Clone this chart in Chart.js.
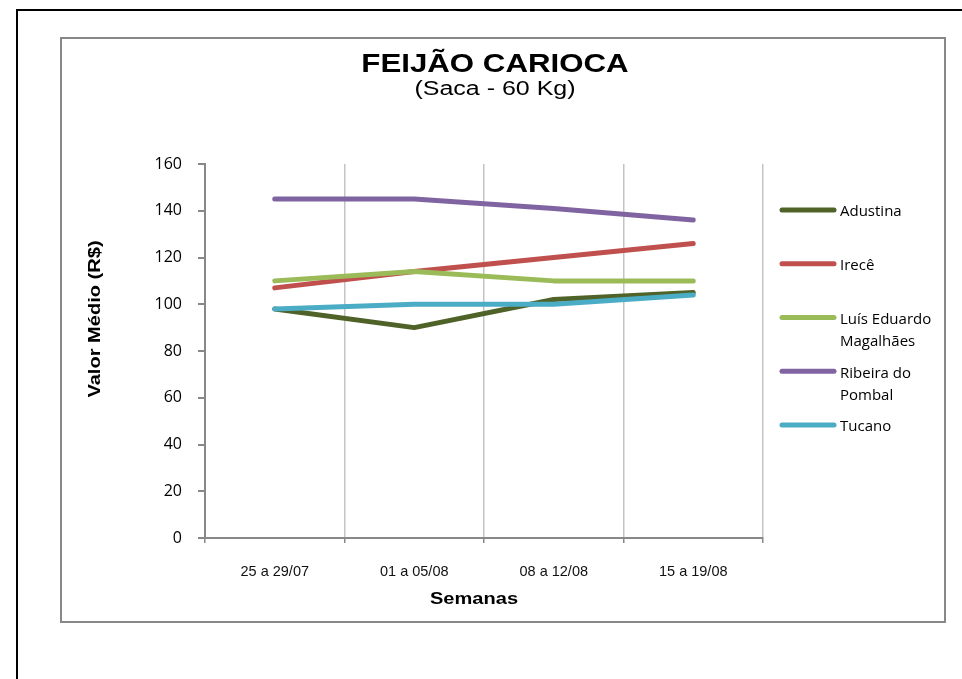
<!DOCTYPE html>
<html>
<head>
<meta charset="utf-8">
<script src="https://cdn.jsdelivr.net/npm/chart.js@4"></script>
<style>
  html, body { margin: 0; padding: 0; background: #fff; }
  #page { position: relative; width: 962px; height: 679px; overflow: hidden; }
  #outer { position: absolute; left: 16px; top: 9px; width: 960px; height: 700px;
           border-top: 2px solid #000; border-left: 2px solid #000; }
  #frame { position: absolute; left: 60px; top: 37px; width: 886px; height: 586px;
           box-sizing: border-box; border: 2px solid #888; }
  #chart { position: absolute; left: 0; top: 0; }
</style>
</head>
<body>
<div id="page">
  <div id="outer"></div>
  <div id="frame"></div>
  <canvas id="chart" width="962" height="679"></canvas>
</div>
<script>
// Semanas (categorias)
const weeks = ['25 a 29/07', '01 a 05/08', '08 a 12/08', '15 a 19/08'];

// Valor médio (R$) por praça
const adustina = [98, 90, 102, 105];
const irece = [107, 114, 120, 126];
const luisEduardo = [110, 114, 110, 110];
const ribeira = [145, 145, 141, 136];
const tucano = [98, 100, 100, 104];

const seriesNames = ['Adustina', 'Irecê', 'Luís Eduardo Magalhães', 'Ribeira do Pombal', 'Tucano'];
const seriesColors = ['#4F6228', '#C0504D', '#9BBB59', '#8064A2', '#4BACC6'];
const seriesValues = [adustina, irece, luisEduardo, ribeira, tucano];

const titleText = 'FEIJÃO CARIOCA';
const subtitleText = '(Saca - 60 Kg)';
const xTitle = 'Semanas';
const yTitle = 'Valor Médio (R$)';

// draw text stretched along its own direction (the original is wide)
function wideText(ctx, text, x, y, font, sx, rot) {
  ctx.save();
  ctx.translate(x, y);
  if (rot) ctx.rotate(rot);
  ctx.scale(sx, 1);
  ctx.font = font;
  ctx.fillStyle = '#000';
  ctx.textAlign = 'center';
  ctx.textBaseline = 'alphabetic';
  ctx.fillText(text, 0, 0);
  ctx.restore();
}

function wrapWords(ctx, text, maxW) {
  const words = text.split(' ');
  const lines = [];
  let cur = '';
  words.forEach(w => {
    const test = cur ? cur + ' ' + w : w;
    if (cur && ctx.measureText(test).width > maxW) {
      lines.push(cur);
      cur = w;
    } else {
      cur = test;
    }
  });
  if (cur) lines.push(cur);
  return lines;
}

const decor = {
  id: 'decor',
  afterDraw(chart) {
    const ctx = chart.ctx;
    wideText(ctx, titleText, 495, 72, 'bold 25px "Liberation Sans"', 1.25);
    wideText(ctx, subtitleText, 495, 95, '20px "Liberation Sans"', 1.25);
    wideText(ctx, xTitle, 474, 604, 'bold 17px "Liberation Sans"', 1.18);
    wideText(ctx, yTitle, 100, 319, 'bold 17px "Liberation Sans"', 1.18, -Math.PI / 2);

    // legend on the right
    ctx.save();
    ctx.font = '15px "Open Sans"';
    ctx.textBaseline = 'middle';
    ctx.textAlign = 'left';
    chart.data.datasets.forEach((ds, i) => {
      const y = 210 + i * 53.75;
      ctx.strokeStyle = ds.borderColor;
      ctx.lineWidth = 5;
      ctx.lineCap = 'round';
      ctx.beginPath();
      ctx.moveTo(782, y);
      ctx.lineTo(834, y);
      ctx.stroke();
      ctx.fillStyle = '#000';
      wrapWords(ctx, ds.label, 105).forEach((ln, k) => {
        ctx.fillText(ln, 840, y + 2 + k * 22);
      });
    });
    ctx.restore();
  }
};

const ctx = document.getElementById('chart').getContext('2d');

const chart = new Chart(ctx, {
  type: 'line',
  data: {
    labels: weeks,
    datasets: seriesNames.map((name, i) => ({
      label: name,
      data: seriesValues[i],
      borderColor: seriesColors[i],
      backgroundColor: seriesColors[i],
      borderWidth: 5,
      borderCapStyle: 'round',
      borderJoinStyle: 'round',
      pointRadius: 0,
      tension: 0,
      order: seriesNames.length - i
    }))
  },
  options: {
    responsive: false,
    animation: false,
    layout: {
      padding: { left: 80, top: 164, right: 199, bottom: 61 }
    },
    plugins: {
      legend: { display: false },
      title: { display: false },
      tooltip: { enabled: false }
    },
    scales: {
      x: {
        offset: true,
        grid: {
          offset: true,
          color: '#c4c4c4',
          lineWidth: 1.5,
          tickLength: 5,
          tickColor: '#888'
        },
        border: { color: '#888', width: 2 },
        ticks: {
          color: '#111',
          padding: 20,
          maxRotation: 0,
          font: { family: 'Liberation Sans', size: 14.5 }
        },
        afterFit(scale) { scale.height = 80; }
      },
      y: {
        min: 0,
        max: 160,
        grid: {
          drawOnChartArea: false,
          tickLength: 7,
          tickColor: '#888',
          lineWidth: 2
        },
        border: { color: '#888', width: 2 },
        ticks: {
          stepSize: 20,
          padding: 16,
          color: '#000',
          font: { family: 'Open Sans', size: 16 }
        },
        afterFit(scale) { scale.width = 125; }
      }
    }
  },
  plugins: [decor]
});
</script>
</body>
</html>
